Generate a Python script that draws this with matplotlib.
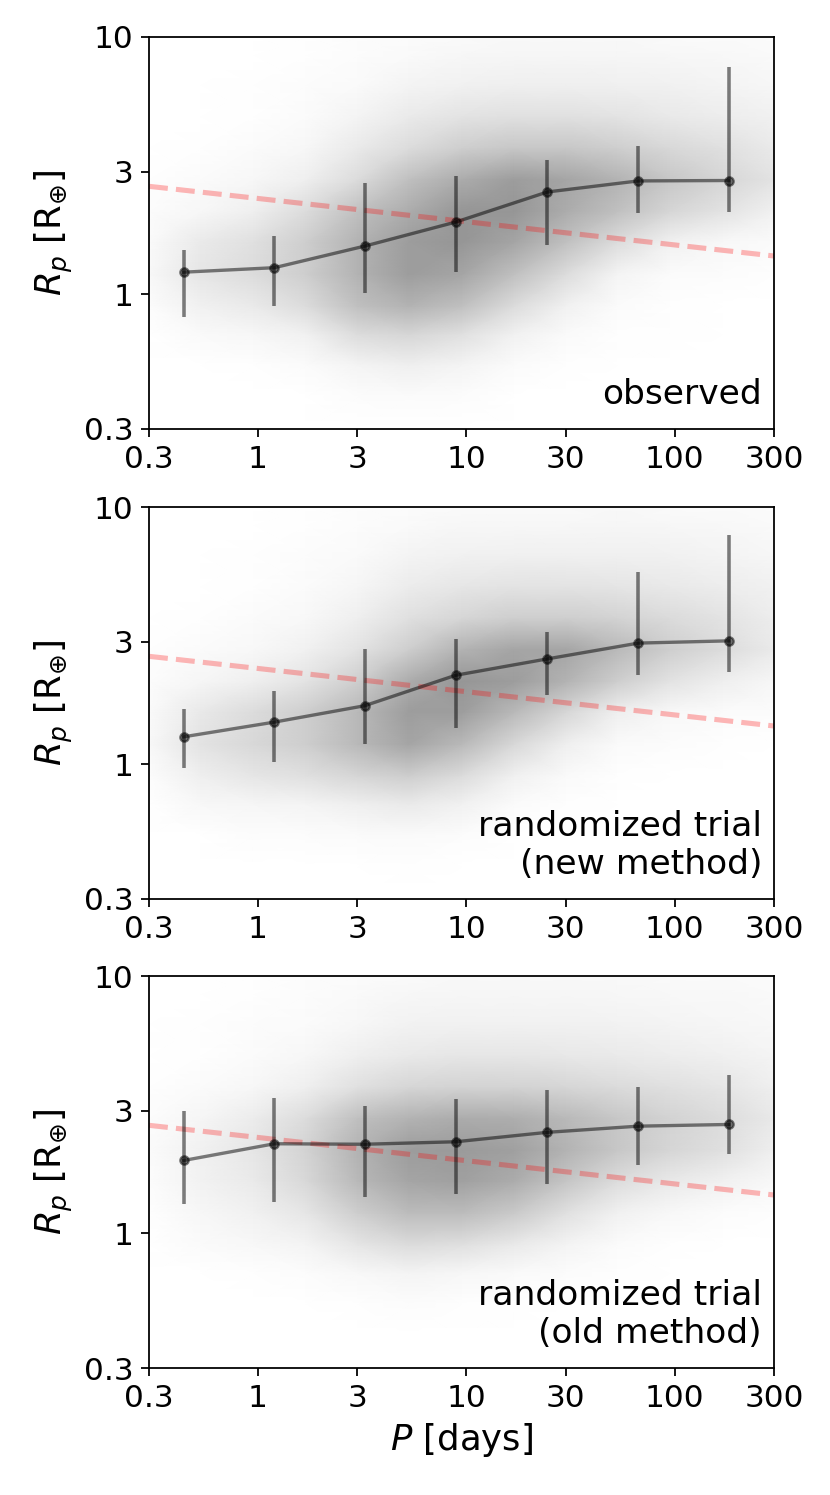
"""
Planet radius vs orbital period: observed sample and two randomized trials.
The point cloud is drawn as a density map read off the original figure.
"""
import numpy as np
import matplotlib
matplotlib.use('Agg')
import matplotlib.pyplot as plt
from matplotlib.colors import LinearSegmentedColormap
from matplotlib.ticker import FixedLocator, FixedFormatter, NullLocator

# Binned medians (period bin centres, days)
P_BINS = [0.44, 1.2, 3.25, 8.9, 24.5, 67, 182]

OBS_MED = [1.22, 1.27, 1.54, 1.91, 2.50, 2.76, 2.77]
OBS_HI = [1.49, 1.69, 2.71, 2.88, 3.33, 3.77, 7.64]
OBS_LO = [0.82, 0.90, 1.01, 1.22, 1.56, 2.07, 2.09]

NEW_MED = [1.28, 1.46, 1.69, 2.22, 2.57, 2.96, 3.02]
NEW_HI = [1.64, 1.93, 2.80, 3.06, 3.28, 5.61, 7.78]
NEW_LO = [0.97, 1.02, 1.20, 1.39, 1.86, 2.22, 2.29]

OLD_MED = [1.92, 2.23, 2.22, 2.27, 2.47, 2.61, 2.65]
OLD_HI = [3.00, 3.36, 3.12, 3.32, 3.60, 3.71, 4.12]
OLD_LO = [1.30, 1.32, 1.38, 1.42, 1.56, 1.85, 2.03]

# Reference power-law line (dashed red)
P_LINE = [0.3, 300]
R_LINE = [2.63, 1.41]

# Density grid of the scatter cloud (relative darkness, 0-10)
P_NODES = [0.3, 0.53, 0.95, 1.7, 3, 5.3, 9.5, 17, 30, 53, 95, 170, 300]
R_NODES = [0.3, 0.4, 0.53, 0.7, 0.9, 1.2, 1.6, 2.1, 2.8, 3.7, 4.9, 6.5, 8.5, 10]

OBS_DENS = [
    [0, 0, 0, 0, 0, 0, 0, 0, 0, 0, 0, 0, 0],
    [0, 0, 0, 0, 0.2, 0.3, 0.2, 0, 0, 0, 0, 0, 0],
    [0, 0, 0.1, 0.3, 0.8, 1.2, 0.8, 0.3, 0.1, 0, 0, 0, 0],
    [0, 0.4, 0.6, 1.0, 2.5, 3.0, 2.2, 1.0, 0.4, 0.1, 0.1, 0, 0],
    [0.2, 1.0, 1.5, 2.5, 4.5, 5.5, 4.5, 2.5, 1.0, 0.3, 0.1, 0, 0],
    [0.5, 1.8, 2.5, 3.5, 5.5, 7.0, 6.5, 4.5, 2.5, 0.8, 0.3, 0.2, 0.1],
    [0.4, 1.5, 2.2, 3.5, 5.5, 7.0, 7.5, 6.5, 4.5, 2.5, 1.0, 0.5, 0.3],
    [0.2, 0.6, 1.2, 2.5, 4.5, 6.0, 7.5, 7.5, 6.0, 4.5, 3.0, 2.0, 1.0],
    [0.1, 0.3, 0.6, 1.2, 2.5, 4.5, 6.0, 7.0, 6.5, 5.5, 4.0, 3.0, 2.0],
    [0, 0.1, 0.3, 0.6, 1.5, 2.5, 3.5, 4.0, 4.0, 3.5, 2.8, 2.2, 1.5],
    [0, 0, 0.1, 0.3, 0.8, 1.5, 2.0, 2.2, 2.2, 2.0, 1.6, 1.3, 1.0],
    [0, 0, 0.1, 0.2, 0.4, 0.8, 1.0, 1.2, 1.2, 1.1, 1.0, 0.8, 0.6],
    [0, 0, 0, 0.1, 0.2, 0.4, 0.6, 0.7, 0.7, 0.7, 0.6, 0.5, 0.4],
    [0, 0, 0, 0.1, 0.2, 0.3, 0.4, 0.5, 0.5, 0.5, 0.4, 0.4, 0.3],
]

NEW_DENS = [
    [0, 0, 0, 0, 0, 0, 0, 0, 0, 0, 0, 0, 0],
    [0, 0, 0, 0, 0, 0.1, 0, 0, 0, 0, 0, 0, 0],
    [0, 0, 0.2, 0.2, 0.3, 0.4, 0.2, 0, 0, 0, 0, 0, 0],
    [0, 0.5, 0.7, 0.8, 1.2, 1.5, 1.0, 0.3, 0.1, 0, 0, 0, 0],
    [0.2, 1.2, 1.8, 2.2, 3.0, 3.5, 2.5, 1.0, 0.4, 0.1, 0, 0, 0],
    [0.5, 2.0, 2.8, 3.5, 5.0, 6.5, 5.0, 2.8, 1.2, 0.4, 0.2, 0.1, 0],
    [0.4, 1.6, 2.5, 3.5, 5.0, 7.0, 7.0, 5.0, 3.0, 1.2, 0.5, 0.3, 0.2],
    [0.2, 0.7, 1.2, 2.0, 3.5, 6.0, 7.5, 7.0, 5.5, 3.5, 2.0, 1.2, 0.6],
    [0.1, 0.3, 0.5, 1.0, 2.0, 3.5, 5.5, 6.5, 6.5, 5.0, 3.5, 2.5, 1.5],
    [0, 0.1, 0.3, 0.5, 1.2, 2.2, 3.0, 3.5, 3.5, 3.2, 2.6, 2.0, 1.3],
    [0, 0, 0.1, 0.3, 0.7, 1.4, 1.8, 2.0, 2.0, 1.9, 1.6, 1.3, 1.0],
    [0, 0, 0.1, 0.2, 0.4, 0.8, 1.0, 1.1, 1.1, 1.1, 1.0, 0.8, 0.6],
    [0, 0, 0, 0.1, 0.2, 0.4, 0.6, 0.6, 0.6, 0.7, 0.6, 0.5, 0.4],
    [0, 0, 0, 0.1, 0.2, 0.3, 0.4, 0.4, 0.4, 0.5, 0.4, 0.4, 0.3],
]

OLD_DENS = [
    [0, 0, 0, 0, 0, 0, 0, 0, 0, 0, 0, 0, 0],
    [0, 0, 0, 0, 0, 0, 0, 0, 0, 0, 0, 0, 0],
    [0, 0, 0, 0, 0.1, 0.2, 0.1, 0.1, 0, 0, 0, 0, 0],
    [0, 0, 0.1, 0.2, 0.5, 0.8, 0.6, 0.4, 0.2, 0.1, 0, 0, 0],
    [0, 0.3, 0.5, 0.8, 1.8, 2.5, 2.2, 1.5, 0.8, 0.3, 0.1, 0, 0],
    [0.1, 0.6, 1.0, 1.8, 3.5, 4.8, 4.8, 3.8, 2.2, 1.0, 0.5, 0.2, 0.1],
    [0.2, 0.9, 1.5, 2.8, 5.0, 6.5, 6.8, 6.0, 4.2, 2.5, 1.6, 1.0, 0.5],
    [0.3, 1.0, 1.8, 3.2, 5.5, 7.0, 7.2, 6.8, 5.5, 4.0, 3.0, 2.2, 1.2],
    [0.2, 0.7, 1.4, 2.5, 4.5, 5.5, 6.0, 5.8, 5.0, 4.0, 3.2, 2.5, 1.6],
    [0.1, 0.3, 0.6, 1.2, 2.2, 3.0, 3.2, 3.2, 3.0, 2.6, 2.2, 1.8, 1.2],
    [0, 0.1, 0.3, 0.6, 1.2, 1.6, 1.8, 1.8, 1.7, 1.5, 1.3, 1.1, 0.8],
    [0, 0.1, 0.2, 0.3, 0.6, 0.9, 1.0, 1.0, 1.0, 0.9, 0.8, 0.7, 0.5],
    [0, 0, 0.1, 0.2, 0.4, 0.6, 0.7, 0.7, 0.7, 0.6, 0.5, 0.5, 0.4],
    [0, 0, 0.1, 0.2, 0.3, 0.4, 0.5, 0.5, 0.5, 0.5, 0.4, 0.4, 0.3],
]

LABELS = ['observed', 'randomized trial\n(new method)', 'randomized trial\n(old method)']

X_TICKS = [0.3, 1, 3, 10, 30, 100, 300]
X_TICKLABELS = ['0.3', '1', '3', '10', '30', '100', '300']
Y_TICKS = [0.3, 1, 3, 10]
Y_TICKLABELS = ['0.3', '1', '3', '10']

W, H, DPI = 830, 1495, 160
# panel placement in pixels: (top, bottom)
PANELS = [(37, 429), (507, 899), (976, 1368)]
LEFT, RIGHT = 149, 774

cloud_cmap = LinearSegmentedColormap.from_list('cloud', ['#ffffff', '#747474'])

fig = plt.figure(figsize=(W / DPI, H / DPI), dpi=DPI)

datasets = [
    (OBS_DENS, OBS_MED, OBS_LO, OBS_HI),
    (NEW_DENS, NEW_MED, NEW_LO, NEW_HI),
    (OLD_DENS, OLD_MED, OLD_LO, OLD_HI),
]

X, Y = np.meshgrid(P_NODES, R_NODES)

for i, ((dens, med, lo, hi), (top, bot)) in enumerate(zip(datasets, PANELS)):
    ax = fig.add_axes([LEFT / W, 1 - bot / H, (RIGHT - LEFT) / W, (bot - top) / H])
    ax.set_xscale('log')
    ax.set_yscale('log')

    # point cloud density
    ax.pcolormesh(X, Y, np.array(dens), shading='gouraud', cmap=cloud_cmap,
                  vmin=0, vmax=10, zorder=0)

    ax.plot(P_LINE, R_LINE, '--', color='r', alpha=0.28, lw=2.3, zorder=1)

    med = np.array(med)
    yerr = [med - np.array(lo), np.array(hi) - med]
    ax.errorbar(P_BINS, med, yerr=yerr, fmt='o-', color='k', alpha=0.5,
                lw=1.5, elinewidth=1.6, ms=3.8, capsize=0, zorder=3)

    ax.set_xlim(0.3, 300)
    ax.set_ylim(0.3, 10)
    ax.xaxis.set_major_locator(FixedLocator(X_TICKS))
    ax.xaxis.set_major_formatter(FixedFormatter(X_TICKLABELS))
    ax.yaxis.set_major_locator(FixedLocator(Y_TICKS))
    ax.yaxis.set_major_formatter(FixedFormatter(Y_TICKLABELS))
    ax.xaxis.set_minor_locator(NullLocator())
    ax.yaxis.set_minor_locator(NullLocator())
    ax.tick_params(labelsize=14)

    ax.set_ylabel(r'$R_p$ [$\mathrm{R}_{\oplus}$]', fontsize=16)
    ax.text(0.981, 0.045, LABELS[i], transform=ax.transAxes, ha='right',
            va='bottom', multialignment='right', fontsize=15.5)

    if i == 2:
        ax.set_xlabel(r'$P$ [days]', fontsize=16)

fig.savefig('out.png', dpi=DPI)
